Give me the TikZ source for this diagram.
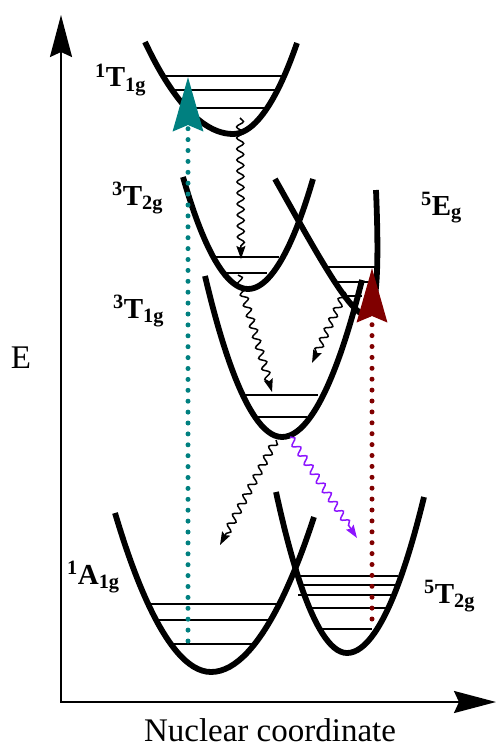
\documentclass[tikz,border=0pt]{standalone}
\usepackage{fontspec}
\setmainfont{Liberation Serif}
\usepackage{xcolor}
\usetikzlibrary{arrows.meta, decorations.pathmorphing}

\definecolor{pumpteal}{RGB}{0,128,128}
\definecolor{pumpred}{RGB}{128,0,0}
\definecolor{iscviolet}{RGB}{140,20,255}

\begin{document}
\begin{tikzpicture}[x=1pt, y=-1pt,
  curve/.style={line width=5.8pt},
  level/.style={line width=2pt},
  axis/.style={line width=2.2pt, -{Stealth[length=42pt, width=22pt, inset=5pt]}},
  relax/.style={line width=1.5pt, decorate, decoration={snake, amplitude=3.5pt, segment length=11pt, post length=10pt}, -{Stealth[length=13pt, width=9pt, inset=2pt]}},
  pump/.style={line width=5pt, line cap=round, dash pattern=on 0pt off 10.9pt, -{Stealth[length=54pt, width=30pt, inset=6pt]}},
  state/.style={font=\fontsize{29}{32}\selectfont\bfseries, inner sep=0pt, anchor=base west},
  axislabel/.style={font=\fontsize{33}{36}\selectfont, inner sep=0pt}
]
  \useasboundingbox (0,0) rectangle (496,749);

  % Axes
  \coordinate (origin) at (61,702);
  \coordinate (ytip) at (61,15);
  \coordinate (xtip) at (496,702);
  \draw[axis, line cap=rect] (origin) -- (ytip);
  \draw[axis] (origin) -- (xtip);
  \node[axislabel] (elab) at (21,357.5) {E};
  \node[axislabel, anchor=base] (xlab) at (270,741) {Nuclear coordinate};

  % Potential curves
  \draw[curve] (145,42) parabola bend (233,134) (297,43);    % 1T1g
  \draw[curve] (183,177) parabola bend (248,289) (313,179);  % 3T2g
  \draw[curve] (275,179) .. controls (315,250) and (350,315) .. (366,315)
    .. controls (380,315) and (378,240) .. (376,190);        % 5Eg
  \draw[curve] (205,276) parabola bend (282,437) (362,280);  % 3T1g
  \draw[curve] (115,513) parabola bend (211,672) (314,517);  % 1A1g
  \draw[curve] (276,492) parabola bend (347,653) (424,497);  % 5T2g

  % Vibrational levels
  \foreach \y/\a/\b in {76/166/283, 90/170/280, 108/180/267,
                        257/213/279, 273/224/267,
                        267/323/378, 282/333/378, 296/343/362,
                        395/244/318, 417/256/307,
                        604/148/277, 620/157/268, 644/170/252,
                        576/298/398, 585/299/396, 595/298/397, 608/307/388, 629/322/372} {
    \draw[level] (\a,\y) -- (\b,\y);
  }

  % Relaxation (wavy arrows)
  \coordinate (w1a) at (240,118); \coordinate (w1b) at (241,259);
  \coordinate (w2a) at (238,275); \coordinate (w2b) at (272,392);
  \coordinate (w3a) at (345,292); \coordinate (w3b) at (312,363);
  \coordinate (w4a) at (276,440); \coordinate (w4b) at (220,545);
  \coordinate (w5a) at (290,437); \coordinate (w5b) at (357,538);
  \draw[relax] (w1a) -- (w1b);
  \draw[relax] (w2a) -- (w2b);
  \draw[relax] (w3a) -- (w3b);
  \draw[relax] (w4a) -- (w4b);
  \draw[relax, iscviolet] (w5a) -- (w5b);

  % Excitation (dotted arrows)
  \coordinate (tealfoot) at (188,641); \coordinate (tealtip) at (188,77);
  \coordinate (redfoot) at (372,619);  \coordinate (redtip) at (372,268);
  \draw[pump, pumpteal] (tealfoot) -- (tealtip);
  \draw[pump, pumpred] (redfoot) -- (redtip);

  % State labels
  \node[state] (t1g1) at (95,87) {\textsuperscript{1}T\textsubscript{1g}};
  \node[state] (t2g3) at (112,205) {\textsuperscript{3}T\textsubscript{2g}};
  \node[state] (t1g3) at (113,318) {\textsuperscript{3}T\textsubscript{1g}};
  \node[state] (eg5) at (421,215) {\textsuperscript{5}E\textsubscript{g}};
  \node[state] (a1g1) at (67,584) {\textsuperscript{1}A\textsubscript{1g}};
  \node[state] (t2g5) at (424,603) {\textsuperscript{5}T\textsubscript{2g}};
\end{tikzpicture}
\end{document}
